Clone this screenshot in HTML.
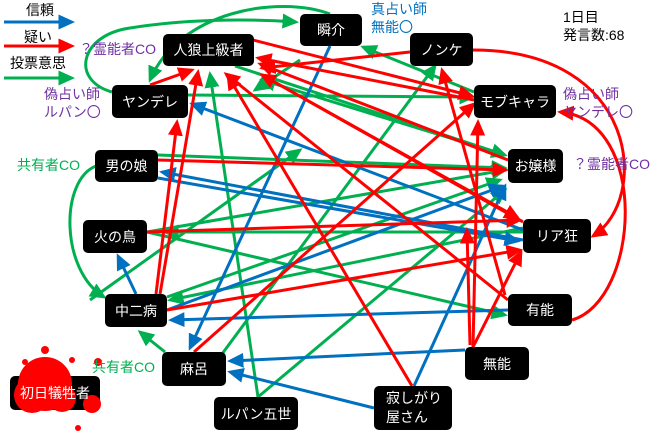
<!DOCTYPE html>
<html><head><meta charset="utf-8"><style>
body{margin:0;width:660px;height:434px;background:#fff;overflow:hidden;font-family:"Liberation Sans","Noto Sans CJK JP",sans-serif}
svg{position:absolute;left:0;top:0}
.n{position:absolute;background:#000;color:#fff;border-radius:5px;font-size:14px;display:flex;align-items:center;justify-content:center;box-sizing:border-box}
.t{position:absolute;font-size:14px;line-height:18px;white-space:nowrap}
</style></head><body>
<svg width="660" height="434" viewBox="0 0 660 434">
<defs>
<marker id="r" markerWidth="5.5" markerHeight="5" refX="4.5" refY="2.5" orient="auto" markerUnits="strokeWidth"><path d="M0,0L5.5,2.5L0,5z" fill="#f00"/></marker>
<marker id="b" markerWidth="5.5" markerHeight="5" refX="4.5" refY="2.5" orient="auto" markerUnits="strokeWidth"><path d="M0,0L5.5,2.5L0,5z" fill="#0070c0"/></marker>
<marker id="g" markerWidth="5.5" markerHeight="5" refX="4.5" refY="2.5" orient="auto" markerUnits="strokeWidth"><path d="M0,0L5.5,2.5L0,5z" fill="#00b050"/></marker>
</defs>
<g fill="none" stroke-width="3">
<line x1="4" y1="22" x2="72" y2="22" stroke="#0070c0" marker-end="url(#b)"/>
<line x1="4" y1="46" x2="72" y2="46" stroke="#f00" marker-end="url(#r)"/>
<line x1="4" y1="78" x2="72" y2="78" stroke="#00b050" marker-end="url(#g)"/>
<g stroke="#00b050" marker-end="url(#g)">
<path d="M112,92 C70,80 80,35 130,28 C180,20 240,18 296,22"/>
<path d="M330,14 C280,-5 180,10 150,80"/>
<path d="M96,166 C60,180 60,270 104,297"/>
<line x1="165" y1="352" x2="140" y2="332"/>
<line x1="258" y1="397" x2="210" y2="74"/>
<line x1="258" y1="397" x2="505" y2="190"/>
<line x1="222" y1="354" x2="435" y2="66"/>
<line x1="474" y1="92" x2="363" y2="47"/>
<line x1="235" y1="66" x2="505" y2="155"/>
<line x1="188" y1="95" x2="473" y2="97"/>
<line x1="147" y1="232" x2="505" y2="315"/>
<line x1="523" y1="232" x2="165" y2="232"/>
<line x1="523" y1="228" x2="170" y2="300"/>
<line x1="158" y1="155" x2="505" y2="168"/>
<line x1="147" y1="232" x2="505" y2="170"/>
<line x1="167" y1="297" x2="500" y2="180"/>
<line x1="300" y1="60" x2="255" y2="90"/>
<line x1="505" y1="155" x2="262" y2="80"/>
<line x1="90" y1="300" x2="300" y2="150"/>
</g>
<g stroke="#0070c0" marker-end="url(#b)">
<line x1="136" y1="294" x2="118" y2="256"/>
<line x1="330" y1="46" x2="190" y2="348"/>
<line x1="523" y1="230" x2="192" y2="104"/>
<line x1="523" y1="240" x2="162" y2="172"/>
<line x1="508" y1="310" x2="171" y2="320"/>
<line x1="465" y1="350" x2="230" y2="361"/>
<line x1="374" y1="408" x2="230" y2="372"/>
<line x1="414" y1="386" x2="505" y2="186"/>
<line x1="158" y1="178" x2="518" y2="241"/>
<line x1="167" y1="310" x2="503" y2="186"/>
</g>
<g stroke="#f00" marker-end="url(#r)">
<line x1="508" y1="160" x2="260" y2="64"/>
<line x1="523" y1="222" x2="262" y2="75"/>
<line x1="508" y1="300" x2="226" y2="74"/>
<line x1="474" y1="100" x2="258" y2="58"/>
<line x1="253" y1="40" x2="472" y2="96"/>
<line x1="410" y1="52" x2="262" y2="68"/>
<line x1="150" y1="85" x2="192" y2="70"/>
<line x1="160" y1="294" x2="198" y2="72"/>
<line x1="156" y1="294" x2="177" y2="122"/>
<line x1="158" y1="160" x2="506" y2="170"/>
<path d="M473,50 C640,50 650,200 593,236"/>
<path d="M572,320 C640,300 650,120 560,112"/>
<line x1="473" y1="347" x2="521" y2="252"/>
<line x1="473" y1="347" x2="478" y2="122"/>
<line x1="412" y1="386" x2="228" y2="76"/>
<line x1="194" y1="352" x2="474" y2="104"/>
<line x1="167" y1="310" x2="520" y2="250"/>
<line x1="147" y1="232" x2="520" y2="220"/>
<line x1="505" y1="295" x2="442" y2="70"/>
<line x1="262" y1="75" x2="518" y2="218"/>
<line x1="470" y1="345" x2="467" y2="230"/>
</g>
</g>
<rect x="10" y="376" width="90" height="34" rx="5" fill="#000"/>
<g fill="#f00">
<circle cx="45" cy="384" r="27"/><circle cx="32" cy="395" r="18"/><circle cx="62" cy="398" r="14"/>
<circle cx="92" cy="404" r="9"/><circle cx="45" cy="350" r="4"/><circle cx="72" cy="360" r="3"/>
<circle cx="98" cy="362" r="4"/><circle cx="78" cy="428" r="3"/><circle cx="25" cy="362" r="3"/>
</g>
</svg>
<div class="t" style="left:26px;top:1px">信頼</div>
<div class="t" style="left:24px;top:28px">疑い</div>
<div class="t" style="left:10px;top:54px">投票意思</div>
<div class="t" style="left:79px;top:40px;color:#7030a0">？霊能者CO</div>
<div class="t" style="left:44px;top:85px;color:#7030a0">偽占い師<br>ルパン〇</div>
<div class="t" style="left:17px;top:156px;color:#00b050">共有者CO</div>
<div class="t" style="left:92px;top:358px;color:#00b050">共有者CO</div>
<div class="t" style="left:371px;top:0px;color:#0070c0">真占い師<br>無能〇</div>
<div class="t" style="left:563px;top:8px">1日目<br>発言数:68</div>
<div class="t" style="left:563px;top:85px;color:#7030a0">偽占い師<br>ヤンデレ〇</div>
<div class="t" style="left:573px;top:155px;color:#7030a0">？霊能者CO</div>
<div class="n" style="left:300px;top:14px;width:62px;height:32px">瞬介</div>
<div class="n" style="left:163px;top:34px;width:91px;height:32px">人狼上級者</div>
<div class="n" style="left:410px;top:33px;width:63px;height:33px">ノンケ</div>
<div class="n" style="left:474px;top:85px;width:82px;height:33px">モブキャラ</div>
<div class="n" style="left:112px;top:85px;width:76px;height:33px">ヤンデレ</div>
<div class="n" style="left:95px;top:150px;width:63px;height:32px">男の娘</div>
<div class="n" style="left:508px;top:149px;width:55px;height:34px">お嬢様</div>
<div class="n" style="left:83px;top:220px;width:64px;height:33px">火の鳥</div>
<div class="n" style="left:523px;top:219px;width:68px;height:34px">リア狂</div>
<div class="n" style="left:105px;top:294px;width:62px;height:33px">中二病</div>
<div class="n" style="left:508px;top:294px;width:64px;height:32px">有能</div>
<div class="n" style="left:162px;top:352px;width:64px;height:34px">麻呂</div>
<div class="n" style="left:465px;top:347px;width:64px;height:33px">無能</div>
<div class="n" style="left:214px;top:397px;width:84px;height:33px">ルパン五世</div>
<div class="n" style="left:374px;top:386px;width:78px;height:44px;line-height:19px;justify-content:flex-start;padding-left:12px">寂しがり<br>屋さん</div>
<div class="n" style="left:10px;top:376px;width:90px;height:34px;background:transparent">初日犠牲者</div>
</body></html>
